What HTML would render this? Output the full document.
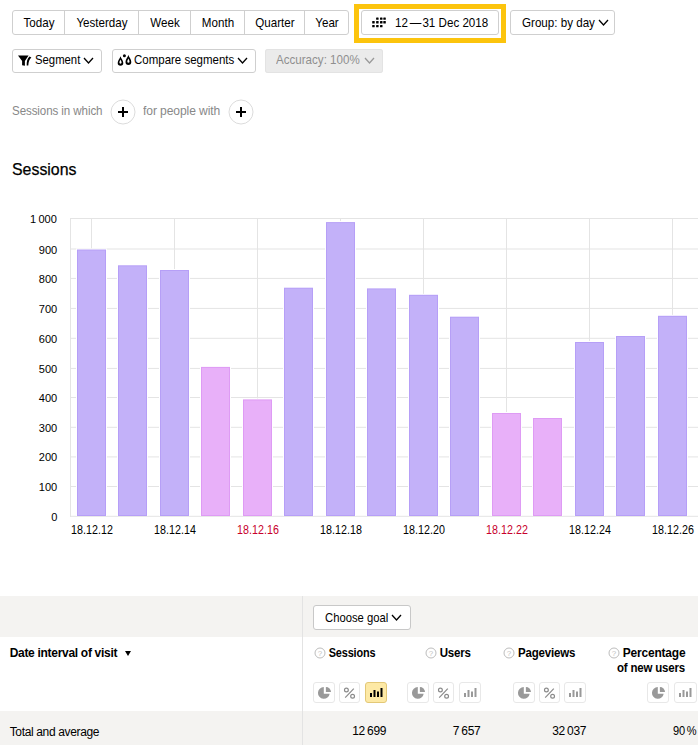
<!DOCTYPE html>
<html><head><meta charset="utf-8"><style>
html,body{margin:0;padding:0;background:#fff;}
body{width:698px;height:745px;position:relative;overflow:hidden;font-family:"Liberation Sans", sans-serif;}
</style></head><body>
<div style="position:absolute;left:12px;top:10px;width:337px;height:25px;border:1px solid #cfcfcf;border-radius:3px;background:#fff;box-sizing:border-box;"></div>
<div style="position:absolute;left:64px;top:11px;width:1px;height:23px;background:#cfcfcf;"></div>
<div style="position:absolute;left:138px;top:11px;width:1px;height:23px;background:#cfcfcf;"></div>
<div style="position:absolute;left:190px;top:11px;width:1px;height:23px;background:#cfcfcf;"></div>
<div style="position:absolute;left:244px;top:11px;width:1px;height:23px;background:#cfcfcf;"></div>
<div style="position:absolute;left:304px;top:11px;width:1px;height:23px;background:#cfcfcf;"></div>
<div style="position:absolute;top:15.73px;font-size:13.2px;line-height:13.2px;color:#000;font-weight:normal;white-space:nowrap;letter-spacing:0px;left:-21.50px;width:120px;text-align:center;transform-origin:50% 0;transform:scaleX(0.88);">Today</div>
<div style="position:absolute;top:15.73px;font-size:13.2px;line-height:13.2px;color:#000;font-weight:normal;white-space:nowrap;letter-spacing:0px;left:41.50px;width:120px;text-align:center;transform-origin:50% 0;transform:scaleX(0.88);">Yesterday</div>
<div style="position:absolute;top:15.73px;font-size:13.2px;line-height:13.2px;color:#000;font-weight:normal;white-space:nowrap;letter-spacing:0px;left:104.50px;width:120px;text-align:center;transform-origin:50% 0;transform:scaleX(0.88);">Week</div>
<div style="position:absolute;top:15.73px;font-size:13.2px;line-height:13.2px;color:#000;font-weight:normal;white-space:nowrap;letter-spacing:0px;left:157.50px;width:120px;text-align:center;transform-origin:50% 0;transform:scaleX(0.88);">Month</div>
<div style="position:absolute;top:15.73px;font-size:13.2px;line-height:13.2px;color:#000;font-weight:normal;white-space:nowrap;letter-spacing:0px;left:214.50px;width:120px;text-align:center;transform-origin:50% 0;transform:scaleX(0.88);">Quarter</div>
<div style="position:absolute;top:15.73px;font-size:13.2px;line-height:13.2px;color:#000;font-weight:normal;white-space:nowrap;letter-spacing:0px;left:267.00px;width:120px;text-align:center;transform-origin:50% 0;transform:scaleX(0.88);">Year</div>
<div style="position:absolute;left:354px;top:4px;width:152px;height:39px;border:5px solid #fcc40d;box-sizing:border-box;"></div>
<div style="position:absolute;left:361px;top:10px;width:138px;height:25px;border:1px solid #cfcfcf;border-radius:3px;background:#fff;box-sizing:border-box;"></div>
<svg style="position:absolute;left:0;top:0" width="698" height="60"><g fill="#000"><rect x="376.1" y="17.5" width="2.5" height="2.3" rx="0.5"/><rect x="380" y="17.5" width="2.5" height="2.3" rx="0.5"/><rect x="383.3" y="17.5" width="2.5" height="2.3" rx="0.5"/><rect x="372.2" y="21.1" width="2.5" height="2.3" rx="0.5"/><rect x="376.1" y="21.1" width="2.5" height="2.3" rx="0.5"/><rect x="380" y="21.1" width="2.5" height="2.3" rx="0.5"/><rect x="383.3" y="21.1" width="2.5" height="2.3" rx="0.5"/><rect x="372.2" y="25" width="2.5" height="2.3" rx="0.5"/><rect x="376.1" y="25" width="2.5" height="2.3" rx="0.5"/><rect x="380" y="25" width="2.5" height="2.3" rx="0.5"/></g></svg>
<div style="position:absolute;top:15.73px;font-size:13.2px;line-height:13.2px;color:#000;font-weight:normal;white-space:nowrap;letter-spacing:0px;left:395.00px;transform-origin:0 0;transform:scaleX(0.88);">12&#8202;&#8202;—&#8202;31 Dec 2018</div>
<div style="position:absolute;left:510px;top:10px;width:105px;height:25px;border:1px solid #cfcfcf;border-radius:3px;background:#fff;box-sizing:border-box;"></div>
<div style="position:absolute;top:15.73px;font-size:13.2px;line-height:13.2px;color:#000;font-weight:normal;white-space:nowrap;letter-spacing:0px;left:522.00px;transform-origin:0 0;transform:scaleX(0.88);">Group: by day</div>
<svg style="position:absolute;left:597.5px;top:19px" width="11" height="7"><path d="M1 1 L5.5 6 L10 1" fill="none" stroke="#000" stroke-width="1.3"/></svg>
<div style="position:absolute;left:12px;top:49px;width:90px;height:24px;border:1px solid #cfcfcf;border-radius:3px;background:#fff;box-sizing:border-box;"></div>
<svg style="position:absolute;left:0;top:40px" width="60" height="40"><path d="M18 15.5 H28.6 L24.9 21 V25.7 L22.1 25.2 V21 Z" fill="#000"/><path d="M29.5 16.6 L31.4 17.4 C29.3 19 28.5 21.5 28.3 25.6 L26.7 25.6 C26.6 21.5 27.2 18.5 29.5 16.6 Z" fill="#000"/></svg>
<div style="position:absolute;top:53.33px;font-size:13.2px;line-height:13.2px;color:#000;font-weight:normal;white-space:nowrap;letter-spacing:0px;left:34.80px;transform-origin:0 0;transform:scaleX(0.858);">Segment</div>
<svg style="position:absolute;left:83.2px;top:57px" width="11" height="7"><path d="M1 1 L5.5 6 L10 1" fill="none" stroke="#000" stroke-width="1.3"/></svg>
<div style="position:absolute;left:112px;top:49px;width:144px;height:24px;border:1px solid #cfcfcf;border-radius:3px;background:#fff;box-sizing:border-box;"></div>
<svg style="position:absolute;left:100px;top:40px" width="40" height="40"><path d="M20.5 16.2 C19.8 18.5 17.7 20.5 17.7 23 A2.8 2.8 0 0 0 23.3 23 C23.3 20.5 21.2 18.5 20.5 16.2 Z" fill="#000"/><path d="M20.5 19.6 C20.2 20.6 19.4 21.4 19.4 22.6 A1.1 1.1 0 0 0 21.6 22.6 C21.6 21.4 20.8 20.6 20.5 19.6 Z" fill="#fff"/><path d="M28.4 15.1 C27.7 17.4 25.5 19.4 25.5 22.1 A2.9 2.9 0 0 0 31.3 22.1 C31.3 19.4 29.1 17.4 28.4 15.1 Z" fill="#000"/><path d="M28.4 18.6 C28.1 19.6 27.3 20.4 27.3 21.7 A1.1 1.1 0 0 0 29.5 21.7 C29.5 20.4 28.7 19.6 28.4 18.6 Z" fill="#fff"/><circle cx="24.4" cy="15.7" r="1.5" fill="#000"/></svg>
<div style="position:absolute;top:53.33px;font-size:13.2px;line-height:13.2px;color:#000;font-weight:normal;white-space:nowrap;letter-spacing:0px;left:134.30px;transform-origin:0 0;transform:scaleX(0.8712);">Compare segments</div>
<svg style="position:absolute;left:237px;top:57px" width="11" height="7"><path d="M1 1 L5.5 6 L10 1" fill="none" stroke="#000" stroke-width="1.3"/></svg>
<div style="position:absolute;left:265px;top:49px;width:118px;height:24px;border-radius:3px;background:#ebebeb;box-shadow:inset 0 0 0 1px #e3e3e3;"></div>
<div style="position:absolute;top:53.33px;font-size:13.2px;line-height:13.2px;color:#8f8f8f;font-weight:normal;white-space:nowrap;letter-spacing:0px;left:276.20px;transform-origin:0 0;transform:scaleX(0.87824);">Accuracy: 100%</div>
<svg style="position:absolute;left:364.3px;top:57px" width="11" height="7"><path d="M1 1 L5.5 6 L10 1" fill="none" stroke="#999" stroke-width="1.3"/></svg>
<div style="position:absolute;top:103.90px;font-size:13px;line-height:13px;color:#888;font-weight:normal;white-space:nowrap;letter-spacing:-0.1px;left:12.30px;transform-origin:0 0;transform:scaleX(0.89);">Sessions in which</div>
<svg style="position:absolute;left:109.5px;top:99px" width="26" height="26"><circle cx="13" cy="13" r="12" fill="#fff" stroke="#dcdcdc" stroke-width="1"/><path d="M8 13 H18 M13 8 V18" stroke="#000" stroke-width="2"/></svg>
<div style="position:absolute;top:103.90px;font-size:13px;line-height:13px;color:#888;font-weight:normal;white-space:nowrap;letter-spacing:-0.1px;left:143.40px;transform-origin:0 0;transform:scaleX(0.93);">for people with</div>
<svg style="position:absolute;left:228px;top:99px" width="26" height="26"><circle cx="13" cy="13" r="12" fill="#fff" stroke="#dcdcdc" stroke-width="1"/><path d="M8 13 H18 M13 8 V18" stroke="#000" stroke-width="2"/></svg>
<div style="position:absolute;top:160.93px;font-size:16.5px;line-height:16.5px;color:#000;font-weight:normal;white-space:nowrap;letter-spacing:0px;left:12.30px;transform-origin:0 0;transform:scaleX(0.963);-webkit-text-stroke:0.25px #000;">Sessions</div>
<svg style="position:absolute;left:0;top:0" width="698" height="560" shape-rendering="geometricPrecision"><rect x="70" y="218.00" width="628" height="1" fill="#e4e4e4"/><rect x="70" y="248.50" width="628" height="1" fill="#e4e4e4"/><rect x="70" y="277.90" width="628" height="1" fill="#e4e4e4"/><rect x="70" y="307.90" width="628" height="1" fill="#e4e4e4"/><rect x="70" y="337.80" width="628" height="1" fill="#e4e4e4"/><rect x="70" y="367.90" width="628" height="1" fill="#e4e4e4"/><rect x="70" y="397.00" width="628" height="1" fill="#e4e4e4"/><rect x="70" y="426.80" width="628" height="1" fill="#e4e4e4"/><rect x="70" y="456.40" width="628" height="1" fill="#e4e4e4"/><rect x="70" y="486.00" width="628" height="1" fill="#e4e4e4"/><rect x="70" y="515.80" width="628" height="1" fill="#e4e4e4"/><rect x="70" y="218" width="1" height="299" fill="#e4e4e4"/><rect x="91" y="218" width="1" height="298" fill="#e4e4e4"/><rect x="174" y="218" width="1" height="298" fill="#e4e4e4"/><rect x="257" y="218" width="1" height="298" fill="#e4e4e4"/><rect x="340" y="218" width="1" height="298" fill="#e4e4e4"/><rect x="423" y="218" width="1" height="298" fill="#e4e4e4"/><rect x="506" y="218" width="1" height="298" fill="#e4e4e4"/><rect x="589" y="218" width="1" height="298" fill="#e4e4e4"/><rect x="672" y="218" width="1" height="298" fill="#e4e4e4"/><rect x="76" y="248.50" width="31" height="267.50" fill="#fff"/><rect x="77" y="249.50" width="29" height="266.50" fill="#b69ff7"/><rect x="78" y="250.50" width="27" height="264.50" fill="#c3b1f9"/><rect x="117" y="264.30" width="31" height="251.70" fill="#fff"/><rect x="118" y="265.30" width="29" height="250.70" fill="#b69ff7"/><rect x="119" y="266.30" width="27" height="248.70" fill="#c3b1f9"/><rect x="159" y="269.00" width="31" height="247.00" fill="#fff"/><rect x="160" y="270.00" width="29" height="246.00" fill="#b69ff7"/><rect x="161" y="271.00" width="27" height="244.00" fill="#c3b1f9"/><rect x="200" y="365.90" width="31" height="150.10" fill="#fff"/><rect x="201" y="366.90" width="29" height="149.10" fill="#de9bf4"/><rect x="202" y="367.90" width="27" height="147.10" fill="#e8b0f9"/><rect x="242" y="398.40" width="31" height="117.60" fill="#fff"/><rect x="243" y="399.40" width="29" height="116.60" fill="#de9bf4"/><rect x="244" y="400.40" width="27" height="114.60" fill="#e8b0f9"/><rect x="283" y="286.70" width="31" height="229.30" fill="#fff"/><rect x="284" y="287.70" width="29" height="228.30" fill="#b69ff7"/><rect x="285" y="288.70" width="27" height="226.30" fill="#c3b1f9"/><rect x="325" y="221.10" width="31" height="294.90" fill="#fff"/><rect x="326" y="222.10" width="29" height="293.90" fill="#b69ff7"/><rect x="327" y="223.10" width="27" height="291.90" fill="#c3b1f9"/><rect x="366" y="287.40" width="31" height="228.60" fill="#fff"/><rect x="367" y="288.40" width="29" height="227.60" fill="#b69ff7"/><rect x="368" y="289.40" width="27" height="225.60" fill="#c3b1f9"/><rect x="408" y="293.80" width="31" height="222.20" fill="#fff"/><rect x="409" y="294.80" width="29" height="221.20" fill="#b69ff7"/><rect x="410" y="295.80" width="27" height="219.20" fill="#c3b1f9"/><rect x="449" y="315.70" width="31" height="200.30" fill="#fff"/><rect x="450" y="316.70" width="29" height="199.30" fill="#b69ff7"/><rect x="451" y="317.70" width="27" height="197.30" fill="#c3b1f9"/><rect x="491" y="412.00" width="31" height="104.00" fill="#fff"/><rect x="492" y="413.00" width="29" height="103.00" fill="#de9bf4"/><rect x="493" y="414.00" width="27" height="101.00" fill="#e8b0f9"/><rect x="532" y="417.00" width="31" height="99.00" fill="#fff"/><rect x="533" y="418.00" width="29" height="98.00" fill="#de9bf4"/><rect x="534" y="419.00" width="27" height="96.00" fill="#e8b0f9"/><rect x="574" y="341.00" width="31" height="175.00" fill="#fff"/><rect x="575" y="342.00" width="29" height="174.00" fill="#b69ff7"/><rect x="576" y="343.00" width="27" height="172.00" fill="#c3b1f9"/><rect x="615" y="335.00" width="31" height="181.00" fill="#fff"/><rect x="616" y="336.00" width="29" height="180.00" fill="#b69ff7"/><rect x="617" y="337.00" width="27" height="178.00" fill="#c3b1f9"/><rect x="657" y="314.80" width="31" height="201.20" fill="#fff"/><rect x="658" y="315.80" width="29" height="200.20" fill="#b69ff7"/><rect x="659" y="316.80" width="27" height="198.20" fill="#c3b1f9"/></svg>
<div style="position:absolute;top:213.87px;font-size:11.5px;line-height:11.5px;color:#000;font-weight:normal;white-space:nowrap;letter-spacing:0px;right:641.00px;text-align:right;transform-origin:100% 0;transform:scaleX(0.96);">1&#8201;000</div>
<div style="position:absolute;top:244.87px;font-size:11.5px;line-height:11.5px;color:#000;font-weight:normal;white-space:nowrap;letter-spacing:0px;right:641.00px;text-align:right;transform-origin:100% 0;transform:scaleX(0.96);">900</div>
<div style="position:absolute;top:273.87px;font-size:11.5px;line-height:11.5px;color:#000;font-weight:normal;white-space:nowrap;letter-spacing:0px;right:641.00px;text-align:right;transform-origin:100% 0;transform:scaleX(0.96);">800</div>
<div style="position:absolute;top:303.87px;font-size:11.5px;line-height:11.5px;color:#000;font-weight:normal;white-space:nowrap;letter-spacing:0px;right:641.00px;text-align:right;transform-origin:100% 0;transform:scaleX(0.96);">700</div>
<div style="position:absolute;top:333.87px;font-size:11.5px;line-height:11.5px;color:#000;font-weight:normal;white-space:nowrap;letter-spacing:0px;right:641.00px;text-align:right;transform-origin:100% 0;transform:scaleX(0.96);">600</div>
<div style="position:absolute;top:363.87px;font-size:11.5px;line-height:11.5px;color:#000;font-weight:normal;white-space:nowrap;letter-spacing:0px;right:641.00px;text-align:right;transform-origin:100% 0;transform:scaleX(0.96);">500</div>
<div style="position:absolute;top:392.87px;font-size:11.5px;line-height:11.5px;color:#000;font-weight:normal;white-space:nowrap;letter-spacing:0px;right:641.00px;text-align:right;transform-origin:100% 0;transform:scaleX(0.96);">400</div>
<div style="position:absolute;top:422.87px;font-size:11.5px;line-height:11.5px;color:#000;font-weight:normal;white-space:nowrap;letter-spacing:0px;right:641.00px;text-align:right;transform-origin:100% 0;transform:scaleX(0.96);">300</div>
<div style="position:absolute;top:451.87px;font-size:11.5px;line-height:11.5px;color:#000;font-weight:normal;white-space:nowrap;letter-spacing:0px;right:641.00px;text-align:right;transform-origin:100% 0;transform:scaleX(0.96);">200</div>
<div style="position:absolute;top:481.87px;font-size:11.5px;line-height:11.5px;color:#000;font-weight:normal;white-space:nowrap;letter-spacing:0px;right:641.00px;text-align:right;transform-origin:100% 0;transform:scaleX(0.96);">100</div>
<div style="position:absolute;top:511.87px;font-size:11.5px;line-height:11.5px;color:#000;font-weight:normal;white-space:nowrap;letter-spacing:0px;right:641.00px;text-align:right;transform-origin:100% 0;transform:scaleX(0.96);">0</div>
<div style="position:absolute;top:523.97px;font-size:12.2px;line-height:12.2px;color:#000;font-weight:normal;white-space:nowrap;letter-spacing:0px;left:52.25px;width:80px;text-align:center;transform-origin:50% 0;transform:scaleX(0.88);">18.12.12</div>
<div style="position:absolute;top:523.97px;font-size:12.2px;line-height:12.2px;color:#000;font-weight:normal;white-space:nowrap;letter-spacing:0px;left:135.25px;width:80px;text-align:center;transform-origin:50% 0;transform:scaleX(0.88);">18.12.14</div>
<div style="position:absolute;top:523.97px;font-size:12.2px;line-height:12.2px;color:#c8002c;font-weight:normal;white-space:nowrap;letter-spacing:0px;left:218.25px;width:80px;text-align:center;transform-origin:50% 0;transform:scaleX(0.88);">18.12.16</div>
<div style="position:absolute;top:523.97px;font-size:12.2px;line-height:12.2px;color:#000;font-weight:normal;white-space:nowrap;letter-spacing:0px;left:301.25px;width:80px;text-align:center;transform-origin:50% 0;transform:scaleX(0.88);">18.12.18</div>
<div style="position:absolute;top:523.97px;font-size:12.2px;line-height:12.2px;color:#000;font-weight:normal;white-space:nowrap;letter-spacing:0px;left:384.25px;width:80px;text-align:center;transform-origin:50% 0;transform:scaleX(0.88);">18.12.20</div>
<div style="position:absolute;top:523.97px;font-size:12.2px;line-height:12.2px;color:#c8002c;font-weight:normal;white-space:nowrap;letter-spacing:0px;left:467.25px;width:80px;text-align:center;transform-origin:50% 0;transform:scaleX(0.88);">18.12.22</div>
<div style="position:absolute;top:523.97px;font-size:12.2px;line-height:12.2px;color:#000;font-weight:normal;white-space:nowrap;letter-spacing:0px;left:550.25px;width:80px;text-align:center;transform-origin:50% 0;transform:scaleX(0.88);">18.12.24</div>
<div style="position:absolute;top:523.97px;font-size:12.2px;line-height:12.2px;color:#000;font-weight:normal;white-space:nowrap;letter-spacing:0px;left:633.25px;width:80px;text-align:center;transform-origin:50% 0;transform:scaleX(0.88);">18.12.26</div>
<div style="position:absolute;left:0px;top:596px;width:698px;height:41px;background:#f4f3f1;"></div>
<div style="position:absolute;left:0px;top:711px;width:698px;height:34px;background:#f4f3f1;"></div>
<div style="position:absolute;left:302px;top:596px;width:1px;height:149px;background:#e3e3e3;"></div>
<div style="position:absolute;left:313px;top:605px;width:98px;height:25px;border:1px solid #c8c8c8;border-radius:3px;background:#fff;box-sizing:border-box;"></div>
<div style="position:absolute;top:610.83px;font-size:13.2px;line-height:13.2px;color:#000;font-weight:normal;white-space:nowrap;letter-spacing:0px;left:325.30px;transform-origin:0 0;transform:scaleX(0.8536);">Choose goal</div>
<svg style="position:absolute;left:391.3px;top:614.3px" width="11" height="7"><path d="M1 1 L5.5 6 L10 1" fill="none" stroke="#000" stroke-width="1.3"/></svg>
<div style="position:absolute;top:646.84px;font-size:12px;line-height:12px;color:#000;font-weight:bold;white-space:nowrap;letter-spacing:-0.3px;left:9.70px;transform-origin:0 0;">Date interval of visit</div>
<svg style="position:absolute;left:124px;top:650px" width="8" height="8"><path d="M1 1 H7 L4 6 Z" fill="#000"/></svg>
<svg style="position:absolute;left:314.30px;top:647.10px" width="12" height="12"><circle cx="6" cy="6" r="5" fill="#fff" stroke="#bdbdbd" stroke-width="1"/><text x="6" y="8.7" font-size="8" text-anchor="middle" fill="#c2c2c2" font-family="Liberation Sans">?</text></svg>
<div style="position:absolute;top:646.72px;font-size:12.5px;line-height:12.5px;color:#000;font-weight:bold;white-space:nowrap;letter-spacing:-0.2px;right:322.30px;text-align:right;transform-origin:100% 0;transform:scaleX(0.874);">Sessions</div>
<div style="position:absolute;top:724.84px;font-size:12px;line-height:12px;color:#000;font-weight:normal;white-space:nowrap;letter-spacing:-0.3px;right:311.80px;text-align:right;transform-origin:100% 0;">12&#8201;699</div>
<div style="position:absolute;left:313px;top:682px;width:22px;height:21px;border:1px solid #e8e8e8;background:#fff;border-radius:3px;box-sizing:border-box;"></div>
<svg style="position:absolute;left:313px;top:682px" width="22" height="21"><path d="M10.8 11.8 V5.05 A5.9 5.9 0 1 0 16.69 11.8 Z" fill="#999"/><path d="M12.9 10.1 V5 A5.1 5.1 0 0 1 18 10.1 Z" fill="#999"/></svg>
<div style="position:absolute;left:339px;top:682px;width:21px;height:21px;border:1px solid #e8e8e8;background:#fff;border-radius:3px;box-sizing:border-box;"></div>
<svg style="position:absolute;left:339px;top:682px" width="22" height="21"><circle cx="7.4" cy="8" r="1.9" fill="none" stroke="#8a8a8a" stroke-width="1.2"/><circle cx="13.6" cy="14.3" r="1.9" fill="none" stroke="#8a8a8a" stroke-width="1.2"/><path d="M6.2 15.7 L14.8 6.6" stroke="#8a8a8a" stroke-width="1.2"/></svg>
<div style="position:absolute;left:365px;top:682px;width:22px;height:21px;border:1px solid #e3c877;background:#fde9a5;border-radius:3px;box-sizing:border-box;"></div>
<svg style="position:absolute;left:365px;top:682px" width="22" height="21" fill="#000"><rect x="5" y="11" width="2" height="4"/><rect x="8.5" y="8" width="2" height="7"/><rect x="12" y="9.5" width="2" height="5.5"/><rect x="15.5" y="6" width="2" height="9"/></svg>
<svg style="position:absolute;left:424.50px;top:647.10px" width="12" height="12"><circle cx="6" cy="6" r="5" fill="#fff" stroke="#bdbdbd" stroke-width="1"/><text x="6" y="8.7" font-size="8" text-anchor="middle" fill="#c2c2c2" font-family="Liberation Sans">?</text></svg>
<div style="position:absolute;top:646.72px;font-size:12.5px;line-height:12.5px;color:#000;font-weight:bold;white-space:nowrap;letter-spacing:-0.2px;right:227.60px;text-align:right;transform-origin:100% 0;transform:scaleX(0.92);">Users</div>
<div style="position:absolute;top:724.84px;font-size:12px;line-height:12px;color:#000;font-weight:normal;white-space:nowrap;letter-spacing:-0.3px;right:217.60px;text-align:right;transform-origin:100% 0;">7&#8201;657</div>
<div style="position:absolute;left:407px;top:682px;width:22px;height:21px;border:1px solid #e8e8e8;background:#fff;border-radius:3px;box-sizing:border-box;"></div>
<svg style="position:absolute;left:407px;top:682px" width="22" height="21"><path d="M10.8 11.8 V5.05 A5.9 5.9 0 1 0 16.69 11.8 Z" fill="#999"/><path d="M12.9 10.1 V5 A5.1 5.1 0 0 1 18 10.1 Z" fill="#999"/></svg>
<div style="position:absolute;left:433px;top:682px;width:21px;height:21px;border:1px solid #e8e8e8;background:#fff;border-radius:3px;box-sizing:border-box;"></div>
<svg style="position:absolute;left:433px;top:682px" width="22" height="21"><circle cx="7.4" cy="8" r="1.9" fill="none" stroke="#8a8a8a" stroke-width="1.2"/><circle cx="13.6" cy="14.3" r="1.9" fill="none" stroke="#8a8a8a" stroke-width="1.2"/><path d="M6.2 15.7 L14.8 6.6" stroke="#8a8a8a" stroke-width="1.2"/></svg>
<div style="position:absolute;left:459px;top:682px;width:22px;height:21px;border:1px solid #e8e8e8;background:#fff;border-radius:3px;box-sizing:border-box;"></div>
<svg style="position:absolute;left:459px;top:682px" width="22" height="21" fill="#999"><rect x="5" y="11" width="2" height="4"/><rect x="8.5" y="8" width="2" height="7"/><rect x="12" y="9.5" width="2" height="5.5"/><rect x="15.5" y="6" width="2" height="9"/></svg>
<svg style="position:absolute;left:502.50px;top:647.10px" width="12" height="12"><circle cx="6" cy="6" r="5" fill="#fff" stroke="#bdbdbd" stroke-width="1"/><text x="6" y="8.7" font-size="8" text-anchor="middle" fill="#c2c2c2" font-family="Liberation Sans">?</text></svg>
<div style="position:absolute;top:646.72px;font-size:12.5px;line-height:12.5px;color:#000;font-weight:bold;white-space:nowrap;letter-spacing:-0.2px;right:122.70px;text-align:right;transform-origin:100% 0;transform:scaleX(0.92);">Pageviews</div>
<div style="position:absolute;top:724.84px;font-size:12px;line-height:12px;color:#000;font-weight:normal;white-space:nowrap;letter-spacing:-0.3px;right:111.80px;text-align:right;transform-origin:100% 0;">32&#8201;037</div>
<div style="position:absolute;left:513px;top:682px;width:22px;height:21px;border:1px solid #e8e8e8;background:#fff;border-radius:3px;box-sizing:border-box;"></div>
<svg style="position:absolute;left:513px;top:682px" width="22" height="21"><path d="M10.8 11.8 V5.05 A5.9 5.9 0 1 0 16.69 11.8 Z" fill="#999"/><path d="M12.9 10.1 V5 A5.1 5.1 0 0 1 18 10.1 Z" fill="#999"/></svg>
<div style="position:absolute;left:539px;top:682px;width:21px;height:21px;border:1px solid #e8e8e8;background:#fff;border-radius:3px;box-sizing:border-box;"></div>
<svg style="position:absolute;left:539px;top:682px" width="22" height="21"><circle cx="7.4" cy="8" r="1.9" fill="none" stroke="#8a8a8a" stroke-width="1.2"/><circle cx="13.6" cy="14.3" r="1.9" fill="none" stroke="#8a8a8a" stroke-width="1.2"/><path d="M6.2 15.7 L14.8 6.6" stroke="#8a8a8a" stroke-width="1.2"/></svg>
<div style="position:absolute;left:564px;top:682px;width:22px;height:21px;border:1px solid #e8e8e8;background:#fff;border-radius:3px;box-sizing:border-box;"></div>
<svg style="position:absolute;left:564px;top:682px" width="22" height="21" fill="#999"><rect x="5" y="11" width="2" height="4"/><rect x="8.5" y="8" width="2" height="7"/><rect x="12" y="9.5" width="2" height="5.5"/><rect x="15.5" y="6" width="2" height="9"/></svg>
<svg style="position:absolute;left:608.30px;top:647.10px" width="12" height="12"><circle cx="6" cy="6" r="5" fill="#fff" stroke="#bdbdbd" stroke-width="1"/><text x="6" y="8.7" font-size="8" text-anchor="middle" fill="#c2c2c2" font-family="Liberation Sans">?</text></svg>
<div style="position:absolute;top:646.72px;font-size:12.5px;line-height:12.5px;color:#000;font-weight:bold;white-space:nowrap;letter-spacing:-0.2px;right:12.50px;text-align:right;transform-origin:100% 0;transform:scaleX(0.9568000000000001);">Percentage</div>
<div style="position:absolute;top:662.02px;font-size:12.5px;line-height:12.5px;color:#000;font-weight:bold;white-space:nowrap;letter-spacing:-0.2px;right:12.50px;text-align:right;transform-origin:100% 0;transform:scaleX(0.92);">of new users</div>
<div style="position:absolute;top:724.84px;font-size:12px;line-height:12px;color:#000;font-weight:normal;white-space:nowrap;letter-spacing:-0.3px;right:1.60px;text-align:right;transform-origin:100% 0;transform:scaleX(0.92);">90&#8201;%</div>
<div style="position:absolute;left:647px;top:682px;width:22px;height:21px;border:1px solid #e8e8e8;background:#fff;border-radius:3px;box-sizing:border-box;"></div>
<svg style="position:absolute;left:647px;top:682px" width="22" height="21"><path d="M10.8 11.8 V5.05 A5.9 5.9 0 1 0 16.69 11.8 Z" fill="#999"/><path d="M12.9 10.1 V5 A5.1 5.1 0 0 1 18 10.1 Z" fill="#999"/></svg>
<div style="position:absolute;left:674px;top:682px;width:23px;height:21px;border:1px solid #e8e8e8;background:#fff;border-radius:3px;box-sizing:border-box;"></div>
<svg style="position:absolute;left:674px;top:682px" width="22" height="21" fill="#999"><rect x="5" y="11" width="2" height="4"/><rect x="8.5" y="8" width="2" height="7"/><rect x="12" y="9.5" width="2" height="5.5"/><rect x="15.5" y="6" width="2" height="9"/></svg>
<div style="position:absolute;top:725.84px;font-size:12px;line-height:12px;color:#000;font-weight:normal;white-space:nowrap;letter-spacing:-0.35px;left:9.70px;transform-origin:0 0;">Total and average</div>
</body></html>
